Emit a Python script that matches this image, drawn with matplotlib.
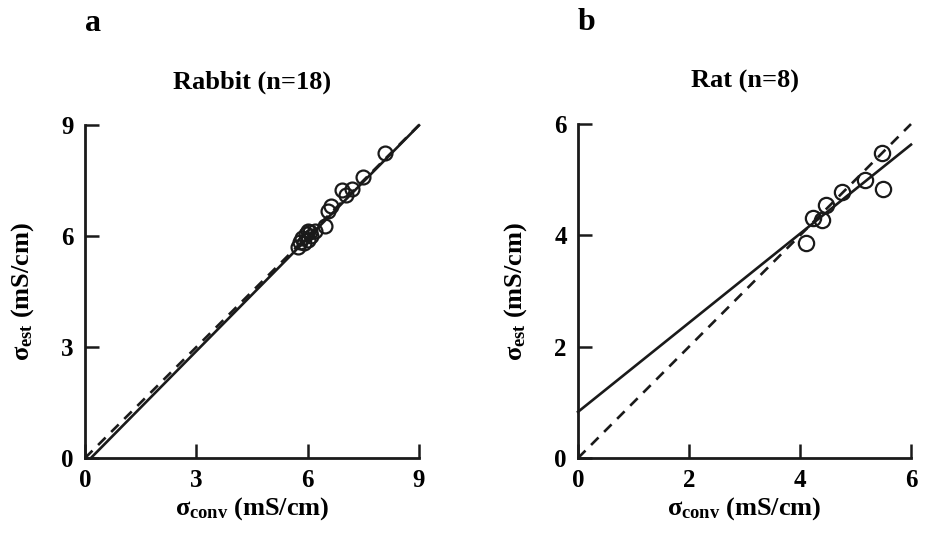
import numpy as np
import matplotlib
matplotlib.use('Agg')
import matplotlib.pyplot as plt

plt.rcParams['font.family'] = 'Liberation Serif'
plt.rcParams['font.weight'] = 'bold'
plt.rcParams['mathtext.fontset'] = 'custom'
plt.rcParams['mathtext.rm'] = 'Liberation Serif:bold'
plt.rcParams['mathtext.it'] = 'Liberation Serif:bold'
plt.rcParams['mathtext.bf'] = 'Liberation Serif:bold'

# rabbit: conventional vs estimated conductivity (mS/cm)
rabbit_conv = [5.75, 5.80, 5.85, 5.90, 5.95, 6.00, 6.05, 6.10, 6.20, 6.00,
               6.47, 6.55, 6.62, 6.92, 7.02, 7.20, 7.50, 8.09]
rabbit_est = [5.70, 5.85, 5.95, 5.80, 6.05, 5.90, 6.10, 6.00, 6.15, 6.15,
              6.28, 6.68, 6.82, 7.24, 7.11, 7.27, 7.60, 8.24]
rabbit_fit = (1.017, -0.16)   # slope, intercept
rabbit_fit_x = [0.16, 9.0]

# rat
rat_conv = [4.11, 4.23, 4.40, 4.47, 4.76, 5.17, 5.50, 5.48]
rat_est = [3.86, 4.31, 4.27, 4.54, 4.78, 4.99, 4.83, 5.48]
rat_fit = (0.80, 0.83)
rat_fit_x = [0.0, 6.0]

panels = [
    ('a', 'Rabbit (n=18)', rabbit_conv, rabbit_est, rabbit_fit, rabbit_fit_x,
     9, [0, 3, 6, 9], 10),
    ('b', 'Rat (n=8)', rat_conv, rat_est, rat_fit, rat_fit_x,
     6, [0, 2, 4, 6], 11),
]

fig = plt.figure(figsize=(9.26, 5.37), dpi=100)
rects = [[0.0918, 0.147, 0.3607, 0.6201], [0.6242, 0.147, 0.3596, 0.6220]]

for rect, (letter, title, xs, ys, fit, fit_x, lim, ticks, ms) in zip(rects, panels):
    ax = fig.add_axes(rect)
    ax.plot([0, lim], [0, lim], color='#1a1a1a', lw=1.9, dashes=(4, 3),
            clip_on=False)
    fx = np.array(fit_x)
    ax.plot(fx, fit[0] * fx + fit[1], color='#1a1a1a', lw=1.9, clip_on=False)
    ax.plot(xs, ys, 'o', mfc='none', mec='#1a1a1a', mew=1.6, ms=ms,
            clip_on=False)

    ax.set_xlim(0, lim)
    ax.set_ylim(0, lim)
    ax.set_xticks(ticks)
    ax.set_yticks(ticks)
    for s in ['top', 'right']:
        ax.spines[s].set_visible(False)
    for s in ['left', 'bottom']:
        ax.spines[s].set_linewidth(2.0)
        ax.spines[s].set_color('#1a1a1a')
    ax.tick_params(direction='in', length=10, width=1.8, color='#1a1a1a',
                   labelsize=18, pad=8)
    ax.set_xlabel(r'$\sigma_{\rm conv}$ (mS/cm)', fontsize=19,
                  fontweight='bold', labelpad=2)
    ax.set_ylabel(r'$\sigma_{\rm est}$ (mS/cm)', fontsize=19,
                  fontweight='bold', labelpad=18)
    ax.set_title(title, fontsize=19, fontweight='bold', pad=26)
    ax.text(0.0, 1.26, letter, transform=ax.transAxes, fontsize=23,
            fontweight='bold', ha='left', va='bottom')

fig.savefig('out.png', dpi=100)
